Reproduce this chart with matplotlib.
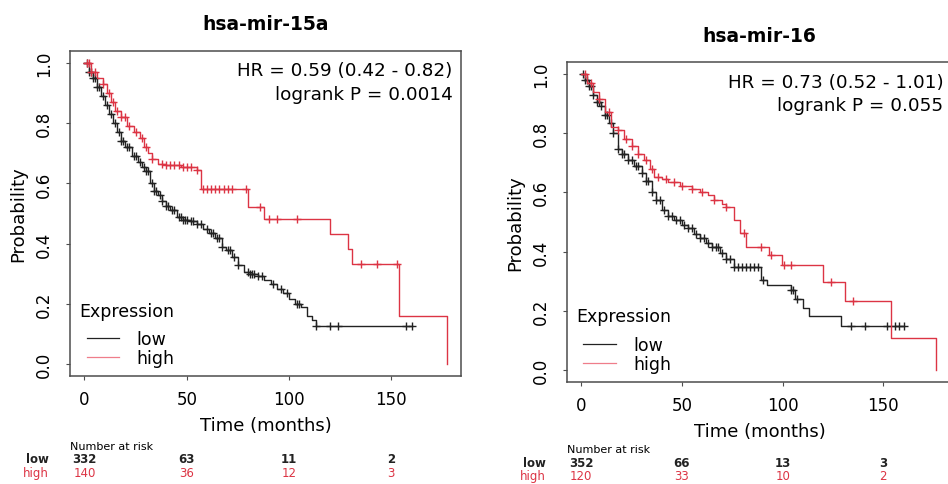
import numpy as np
import matplotlib
matplotlib.use('Agg')
import matplotlib.pyplot as plt
import matplotlib.transforms as mtransforms
from matplotlib.lines import Line2D

# --- data --------------------------------------------------------------
titles = ['hsa-mir-15a', 'hsa-mir-16']
hr_text = ['HR = 0.59 (0.42 - 0.82)', 'HR = 0.73 (0.52 - 1.01)']
p_text = ['logrank P = 0.0014', 'logrank P = 0.055']

risk_times = [0, 50, 100, 150]
risk_low = [[332, 63, 11, 2], [352, 66, 13, 3]]
risk_high = [[140, 36, 12, 3], [120, 33, 10, 2]]

# mir-15a, low expression: step times / survival
low15_t = [0, 2, 4, 6, 8, 10, 12, 14, 16, 18, 20, 23, 26, 28, 30, 32, 34, 36,
           38, 40, 42, 45, 48, 52, 55, 58, 61, 64, 67, 69, 72, 75, 78, 81, 85,
           88, 91, 94, 97, 100, 103, 106, 109, 111, 113]
low15_s = [1.0, 0.97, 0.95, 0.92, 0.89, 0.86, 0.83, 0.80, 0.77, 0.74, 0.72,
           0.69, 0.67, 0.655, 0.64, 0.60, 0.575, 0.56, 0.54, 0.525, 0.51,
           0.49, 0.48, 0.475, 0.465, 0.45, 0.435, 0.42, 0.39, 0.38, 0.355,
           0.33, 0.305, 0.298, 0.293, 0.28, 0.265, 0.25, 0.235, 0.215, 0.2,
           0.19, 0.16, 0.145, 0.127]
low15_end = 160
low15_cens = [1, 2, 3, 4, 5, 6, 7, 9, 11, 13, 15, 17, 18, 19, 21, 22, 24, 25,
              27, 29, 30, 31, 33, 34, 35, 37, 38, 40, 41, 43, 44, 46, 47, 48,
              49, 50, 52, 53, 55, 57, 60, 62, 63, 65, 66, 67, 70, 71, 73, 75,
              80, 81, 82, 83, 85, 87, 92, 96, 99, 104, 105, 113, 120, 124,
              157, 160]

# mir-15a, high expression
high15_t = [0, 3, 6, 9, 11, 13, 15, 18, 21, 24, 27, 29, 31, 33, 36, 40, 47,
            55, 57, 80, 88, 120, 129, 131, 154, 177]
high15_s = [1.0, 0.97, 0.95, 0.93, 0.90, 0.87, 0.84, 0.82, 0.79, 0.77, 0.75,
            0.72, 0.70, 0.68, 0.665, 0.66, 0.655, 0.645, 0.583, 0.52, 0.483,
            0.433, 0.383, 0.333, 0.16, 0.0]
high15_end = 177
high15_cens = [1, 2, 3, 5, 9, 12, 14, 16, 18, 20, 22, 25, 28, 30, 33, 38, 40,
               42, 44, 46, 48, 50, 52, 55, 58, 60, 62, 64, 66, 68, 70, 72, 79,
               86, 90, 94, 104, 135, 143, 153]

# mir-16, low expression
low16_t = [0, 2, 4, 6, 8, 10, 12, 14, 16, 18, 20, 23, 26, 30, 32, 35, 37, 40,
           43, 46, 50, 53, 56, 59, 62, 65, 69, 72, 76, 89, 92, 104, 106, 110,
           113, 129]
low16_s = [1.0, 0.98, 0.96, 0.93, 0.905, 0.89, 0.86, 0.835, 0.80, 0.745,
           0.73, 0.71, 0.69, 0.667, 0.64, 0.60, 0.575, 0.54, 0.52, 0.507,
           0.49, 0.48, 0.46, 0.445, 0.43, 0.415, 0.395, 0.375, 0.347, 0.303,
           0.286, 0.27, 0.24, 0.211, 0.184, 0.15]
low16_end = 160
low16_cens = [1, 2, 3, 4, 5, 6, 8, 9, 10, 12, 13, 15, 16, 18, 20, 21, 23, 25,
              27, 28, 30, 32, 33, 35, 37, 39, 41, 43, 45, 47, 49, 51, 53, 55,
              57, 59, 61, 63, 65, 67, 68, 70, 72, 74, 76, 78, 80, 82, 84, 86,
              88, 90, 104, 105, 107, 134, 141, 152, 156, 158, 160]

# mir-16, high expression
high16_t = [0, 3, 6, 9, 12, 15, 18, 21, 25, 28, 31, 34, 36, 40, 43, 49, 55,
            59, 63, 66, 70, 72, 76, 79, 82, 93, 99.5, 120, 131, 154, 176]
high16_s = [1.0, 0.97, 0.94, 0.915, 0.87, 0.82, 0.81, 0.78, 0.755, 0.73,
            0.71, 0.68, 0.653, 0.645, 0.636, 0.62, 0.61, 0.6, 0.59, 0.575,
            0.56, 0.55, 0.507, 0.462, 0.415, 0.388, 0.354, 0.296, 0.235,
            0.109, 0.0]
high16_end = 176
high16_cens = [2, 5, 9, 14, 18, 22, 25, 28, 32, 35, 38, 42, 46, 50, 55, 60,
               66, 72, 81, 89, 94, 100.5, 104, 124, 135]

panels = [
    ((low15_t, low15_s, low15_end, low15_cens),
     (high15_t, high15_s, high15_end, high15_cens)),
    ((low16_t, low16_s, low16_end, low16_cens),
     (high16_t, high16_s, high16_end, high16_cens)),
]

# --- layout (pixels of the 948x485 picture) ------------------------------
W, H = 948, 485
LOW_COL = '#222222'
HIGH_COL = '#dc3444'
AX_COL = '#4d4d4d'

# left, top, width, height in pixels
ax_px = [(70, 52, 391, 325), (567, 63, 385, 320)]
title_y = [25, 37]
hr_y = [(0.94, 0.868), (0.9375, 0.866)]
expr_y = [0.2, 0.206]
risk_rows = [(447, 460, 474), (450, 464, 477)]
risk_lab_x = [49, 546]

fig = plt.figure(figsize=(W / 100, H / 100), dpi=100)
fig.patch.set_facecolor('white')


def draw_curve(ax, t, s, end, cens, color):
    tt = list(t)
    ss = list(s)
    if end > tt[-1]:
        tt.append(end)
        ss.append(ss[-1])
    ax.plot(tt, ss, drawstyle='steps-post', color=color, lw=1.0)
    idx = np.searchsorted(t, cens, side='right') - 1
    cy = np.asarray(s)[idx]
    ax.plot(cens, cy, ls='none', marker='+', ms=6, mew=1.0, color=color)


for i, (low, high) in enumerate(panels):
    x0, y0, w, h = ax_px[i]
    ax = fig.add_axes([x0 / W, (H - y0 - h) / H, w / W, h / H])

    draw_curve(ax, *low, LOW_COL)
    draw_curve(ax, *high, HIGH_COL)

    ax.set_xlim(-7.08, 184.08)
    ax.set_ylim(-0.04, 1.04)
    ax.set_xticks(risk_times)
    ax.set_yticks([0.0, 0.2, 0.4, 0.6, 0.8, 1.0])
    ax.set_yticklabels(['0.0', '0.2', '0.4', '0.6', '0.8', '1.0'],
                       rotation=90, va='center')
    ax.tick_params(direction='out', length=3, width=0.8, color=AX_COL,
                   labelsize=12, pad=7)
    ax.tick_params(axis='y', pad=9)
    for sp in ax.spines.values():
        sp.set_color(AX_COL)
        sp.set_linewidth(1.1)

    ax.set_xlabel('Time (months)', fontsize=13, labelpad=6)
    ax.set_ylabel('Probability', fontsize=13, labelpad=6)

    ax.text(0.978, hr_y[i][0], hr_text[i], transform=ax.transAxes,
            ha='right', va='center', fontsize=13.2)
    ax.text(0.978, hr_y[i][1], p_text[i], transform=ax.transAxes,
            ha='right', va='center', fontsize=13.2)

    # legend: title drawn separately to get R's spacing
    ax.text(0.023, expr_y[i], 'Expression', transform=ax.transAxes,
            ha='left', va='center', fontsize=12.5)
    handles = [Line2D([], [], color=LOW_COL, lw=0.9),
               Line2D([], [], color='#ef7d8a', lw=0.9)]
    ax.legend(handles, ['low', 'high'], loc='lower left',
              bbox_to_anchor=(0.02, 0.0), frameon=False, fontsize=12.5,
              handlelength=1.9, handletextpad=1.0, labelspacing=0.05,
              borderpad=0.3, borderaxespad=0.2)

    fig.text((x0 + w / 2) / W, 1 - title_y[i] / H, titles[i],
             ha='center', va='center', fontsize=13.5, fontweight='bold')

    # number at risk table
    tr = mtransforms.blended_transform_factory(ax.transData, fig.transFigure)
    yh, yl, yhi = risk_rows[i]
    fig.text(x0 / W, 1 - yh / H, 'Number at risk', ha='left', va='center',
             fontsize=8)
    fig.text(risk_lab_x[i] / W, 1 - yl / H, 'low', ha='right', va='center',
             fontsize=8.5, fontweight='bold', color=LOW_COL)
    fig.text(risk_lab_x[i] / W, 1 - yhi / H, 'high', ha='right',
             va='center', fontsize=8.5, color=HIGH_COL)
    for t, nl, nh in zip(risk_times, risk_low[i], risk_high[i]):
        ax.text(t, 1 - yl / H, str(nl), transform=tr, ha='center',
                va='center', fontsize=8.5, fontweight='bold', color=LOW_COL)
        ax.text(t, 1 - yhi / H, str(nh), transform=tr, ha='center',
                va='center', fontsize=8.5, color=HIGH_COL)

fig.savefig('out.png', dpi=100, facecolor='white')
